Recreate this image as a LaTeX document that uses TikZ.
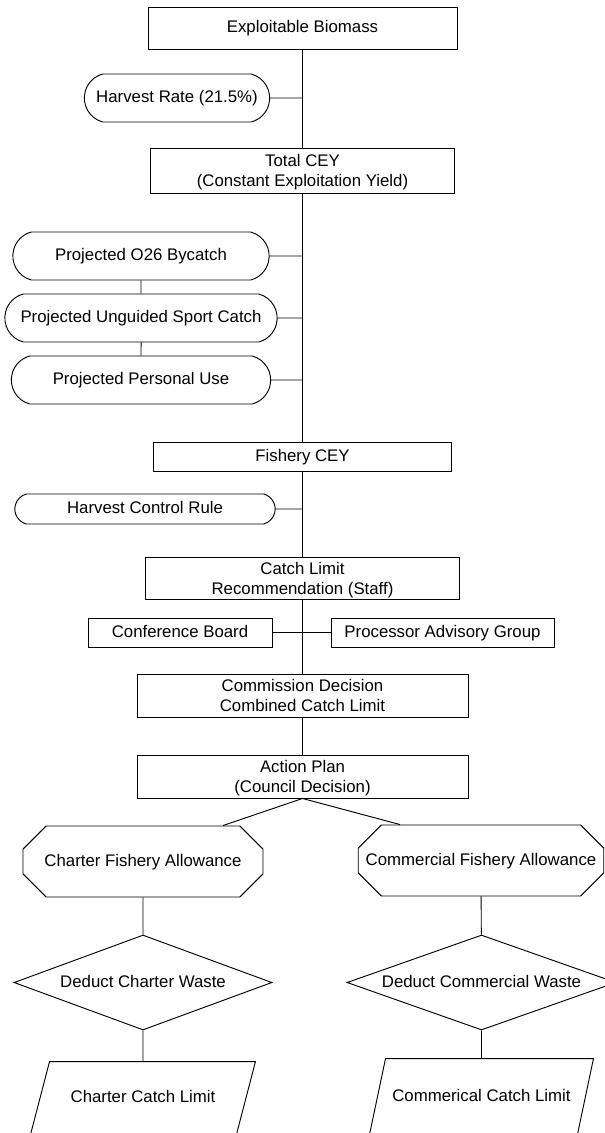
\documentclass[tikz,border=0pt]{standalone}
\usepackage{fontspec}
\setmainfont{Liberation Sans}
\usetikzlibrary{positioning, shapes.geometric, shapes.misc}

\tikzset{
    sz/.style 2 args={minimum width=#1*0.75pt, minimum height=#2*0.75pt},
    oneline/.style={text height=0.72em, text depth=0pt},
    twoline/.style={text depth=0pt},
    stepbox/.style={draw, rectangle, align=center, inner sep=1pt},
    pill/.style={draw, rounded rectangle, rounded rectangle arc length=150, inner sep=1pt, oneline},
    octo/.style={draw, chamfered rectangle, chamfered rectangle xsep=30pt, chamfered rectangle ysep=12.75pt, inner sep=1pt, oneline},
    choice/.style={draw, diamond, aspect=2.75, inner sep=0pt, oneline},
    slab/.style={rectangle, inner sep=1pt, oneline},
}

\begin{document}
\begin{tikzpicture}[x=0.75pt, y=-0.75pt, line width=0.7pt,
    every node/.style={font=\fontsize{12.6}{15}\selectfont}]
    \useasboundingbox (0,0) rectangle (605,1133);

    % main column
    \node[stepbox, oneline, sz={309}{42}] (bio) at (302.5,28) {Exploitable Biomass};
    \node[pill, sz={188}{48}] (hr) at (177,98) {Harvest Rate (21.5\%)};
    \node[stepbox, twoline, sz={304}{45}] (tcey) at (302.5,170.5) {Total CEY\\(Constant Exploitation Yield)};
    \node[pill, sz={259}{48}] (byc) at (141,256) {Projected O26 Bycatch};
    \node[pill, sz={275}{48}] (usc) at (141,318) {Projected Unguided Sport Catch};
    \node[pill, sz={262}{48}] (pu) at (141,380) {Projected Personal Use};
    \node[stepbox, oneline, sz={298}{29}] (fcey) at (302.5,456.5) {Fishery CEY};
    \node[pill, sz={263}{30}] (hcr) at (145,509) {Harvest Control Rule};
    \node[stepbox, twoline, sz={314}{42}] (clr) at (302.5,578) {Catch Limit\\Recommendation (Staff)};
    \node[stepbox, oneline, sz={184}{29}] (cb) at (180,632.5) {Conference Board};
    \node[stepbox, oneline, sz={223}{29}] (pag) at (442.5,632.5) {Processor Advisory Group};
    \node[stepbox, twoline, sz={331}{43}] (cd) at (302.5,695.5) {Commission Decision\\Combined Catch Limit};
    \node[stepbox, twoline, sz={331}{43}] (ap) at (302.5,776.5) {Action Plan\\(Council Decision)};

    % two branches
    \node[octo, sz={240}{71}] (oL) at (143,861.5) {Charter Fishery Allowance};
    \node[octo, sz={244}{71}] (oR) at (481,860.5) {Commercial Fishery Allowance};
    \node[choice, sz={258}{95}] (dL) at (143,982.5) {Deduct Charter Waste};
    \node[choice, sz={269}{95}] (dR) at (481.5,982.5) {Deduct Commercial Waste};
    \node[slab, sz={224}{72}] (pL) at (143,1098) {Charter Catch Limit};
    \node[slab, sz={223}{75}] (pR) at (481.5,1096.5) {Commerical Catch Limit};

    % slanted outlines of the two limit boxes
    \draw ([xshift=19*0.75pt]pL.north west) -- (pL.north east)
        -- ([xshift=-19*0.75pt]pL.south east) -- (pL.south west) -- cycle;
    \draw ([xshift=16*0.75pt]pR.north west) -- (pR.north east)
        -- ([xshift=-16*0.75pt]pR.south east) -- (pR.south west) -- cycle;

    \draw (bio) -- (tcey) -- (fcey) -- (clr) -- (cd) -- (ap);
    \foreach \n in {hr,byc,usc,pu,hcr}
        \draw (\n) -- (\n -| bio);
    \draw (byc) -- (usc) -- (pu);
    \draw (cb) -- (pag);
    \draw ([xshift=80*0.75pt]oL.north) -- (ap.south) -- ([xshift=-81*0.75pt]oR.north);
    \draw (oL) -- (dL) -- (pL.north);
    \draw (oR) -- (dR) -- (pR.north);
\end{tikzpicture}
\end{document}
